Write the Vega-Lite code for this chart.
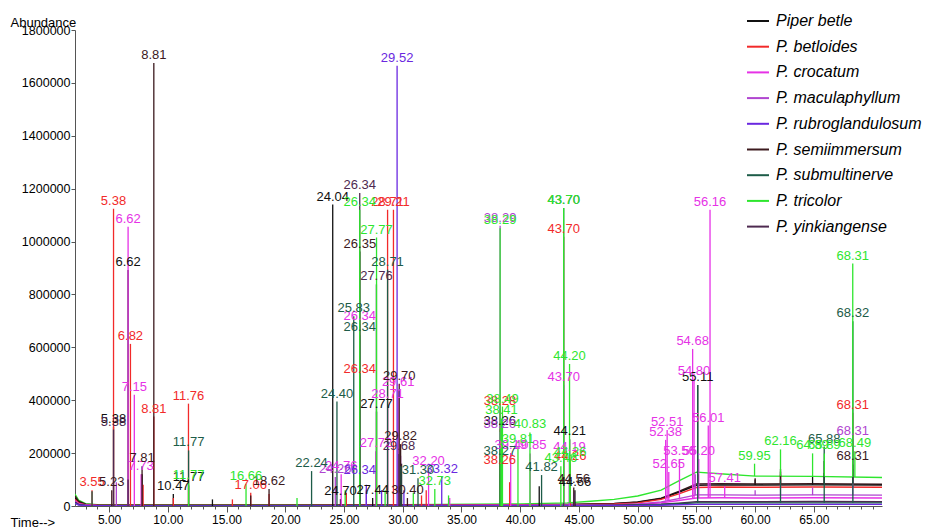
{
  "$schema": "https://vega.github.io/schema/vega-lite/v6.json",
  "width": 807,
  "height": 476,
  "autosize": {"type": "none"},
  "padding": {"left": 75, "top": 30, "right": 55, "bottom": 23},
  "background": "white",
  "config": {
    "view": {"stroke": null},
    "font": "Liberation Sans",
    "axis": {"grid": false, "labelFont": "Liberation Sans", "titleFont": "Liberation Sans", "labelColor": "#000", "titleColor": "#000", "domainColor": "#555", "tickColor": "#555"}
  },
  "datasets": {
    "base": [
      {"s":"P. tricolor","t":2.1,"v":45000},{"s":"P. tricolor","t":2.4,"v":22000},{"s":"P. tricolor","t":3,"v":9000},{"s":"P. tricolor","t":4,"v":5000},{"s":"P. tricolor","t":10,"v":4000},{"s":"P. tricolor","t":20,"v":4000},{"s":"P. tricolor","t":30,"v":5000},{"s":"P. tricolor","t":40,"v":8000},{"s":"P. tricolor","t":44,"v":12000},{"s":"P. tricolor","t":46,"v":18000},{"s":"P. tricolor","t":48,"v":25000},{"s":"P. tricolor","t":50,"v":38000},{"s":"P. tricolor","t":52,"v":60000},{"s":"P. tricolor","t":53.5,"v":95000},{"s":"P. tricolor","t":55,"v":128000},{"s":"P. tricolor","t":57,"v":122000},{"s":"P. tricolor","t":60,"v":113000},{"s":"P. tricolor","t":65,"v":112000},{"s":"P. tricolor","t":70.8,"v":108000},
      {"s":"P. semiimmersum","t":2.1,"v":38000},{"s":"P. semiimmersum","t":2.4,"v":18000},{"s":"P. semiimmersum","t":3,"v":7000},{"s":"P. semiimmersum","t":4,"v":4000},{"s":"P. semiimmersum","t":10,"v":3000},{"s":"P. semiimmersum","t":20,"v":3000},{"s":"P. semiimmersum","t":30,"v":4000},{"s":"P. semiimmersum","t":40,"v":5000},{"s":"P. semiimmersum","t":44,"v":6000},{"s":"P. semiimmersum","t":46,"v":8000},{"s":"P. semiimmersum","t":48,"v":10000},{"s":"P. semiimmersum","t":50,"v":15000},{"s":"P. semiimmersum","t":52,"v":30000},{"s":"P. semiimmersum","t":53.5,"v":55000},{"s":"P. semiimmersum","t":55,"v":83000},{"s":"P. semiimmersum","t":57,"v":84000},{"s":"P. semiimmersum","t":60,"v":83000},{"s":"P. semiimmersum","t":65,"v":84000},{"s":"P. semiimmersum","t":70.8,"v":82000},
      {"s":"Piper betle","t":2.1,"v":30000},{"s":"Piper betle","t":2.4,"v":15000},{"s":"Piper betle","t":3,"v":6000},{"s":"Piper betle","t":4,"v":3000},{"s":"Piper betle","t":10,"v":2000},{"s":"Piper betle","t":20,"v":2000},{"s":"Piper betle","t":30,"v":3000},{"s":"Piper betle","t":40,"v":4000},{"s":"Piper betle","t":44,"v":5000},{"s":"Piper betle","t":46,"v":7000},{"s":"Piper betle","t":48,"v":9000},{"s":"Piper betle","t":50,"v":14000},{"s":"Piper betle","t":52,"v":28000},{"s":"Piper betle","t":53.5,"v":52000},{"s":"Piper betle","t":55,"v":78000},{"s":"Piper betle","t":57,"v":80000},{"s":"Piper betle","t":60,"v":79000},{"s":"Piper betle","t":65,"v":80000},{"s":"Piper betle","t":70.8,"v":79000},
      {"s":"P. betloides","t":2.1,"v":25000},{"s":"P. betloides","t":2.4,"v":12000},{"s":"P. betloides","t":3,"v":5000},{"s":"P. betloides","t":4,"v":3000},{"s":"P. betloides","t":10,"v":2000},{"s":"P. betloides","t":20,"v":2000},{"s":"P. betloides","t":30,"v":3000},{"s":"P. betloides","t":40,"v":4000},{"s":"P. betloides","t":44,"v":5000},{"s":"P. betloides","t":46,"v":6000},{"s":"P. betloides","t":48,"v":8000},{"s":"P. betloides","t":50,"v":12000},{"s":"P. betloides","t":52,"v":25000},{"s":"P. betloides","t":53.5,"v":46000},{"s":"P. betloides","t":55,"v":70000},{"s":"P. betloides","t":57,"v":72000},{"s":"P. betloides","t":60,"v":71000},{"s":"P. betloides","t":65,"v":72000},{"s":"P. betloides","t":70.8,"v":71000},
      {"s":"P. maculaphyllum","t":2.1,"v":20000},{"s":"P. maculaphyllum","t":2.4,"v":9000},{"s":"P. maculaphyllum","t":3,"v":4000},{"s":"P. maculaphyllum","t":4,"v":2000},{"s":"P. maculaphyllum","t":10,"v":1500},{"s":"P. maculaphyllum","t":20,"v":1500},{"s":"P. maculaphyllum","t":30,"v":2000},{"s":"P. maculaphyllum","t":40,"v":3000},{"s":"P. maculaphyllum","t":44,"v":3500},{"s":"P. maculaphyllum","t":46,"v":4000},{"s":"P. maculaphyllum","t":48,"v":5000},{"s":"P. maculaphyllum","t":50,"v":8000},{"s":"P. maculaphyllum","t":52,"v":15000},{"s":"P. maculaphyllum","t":53.5,"v":28000},{"s":"P. maculaphyllum","t":55,"v":42000},{"s":"P. maculaphyllum","t":57,"v":42000},{"s":"P. maculaphyllum","t":60,"v":41000},{"s":"P. maculaphyllum","t":65,"v":42000},{"s":"P. maculaphyllum","t":70.8,"v":41000},
      {"s":"P. crocatum","t":2.1,"v":18000},{"s":"P. crocatum","t":2.4,"v":8000},{"s":"P. crocatum","t":3,"v":3000},{"s":"P. crocatum","t":4,"v":1500},{"s":"P. crocatum","t":10,"v":1000},{"s":"P. crocatum","t":20,"v":1000},{"s":"P. crocatum","t":30,"v":1500},{"s":"P. crocatum","t":40,"v":2000},{"s":"P. crocatum","t":44,"v":2500},{"s":"P. crocatum","t":46,"v":3000},{"s":"P. crocatum","t":48,"v":4000},{"s":"P. crocatum","t":50,"v":6000},{"s":"P. crocatum","t":52,"v":12000},{"s":"P. crocatum","t":53.5,"v":21000},{"s":"P. crocatum","t":55,"v":30000},{"s":"P. crocatum","t":57,"v":31000},{"s":"P. crocatum","t":60,"v":30000},{"s":"P. crocatum","t":65,"v":31000},{"s":"P. crocatum","t":70.8,"v":30000},
      {"s":"P. yinkiangense","t":2.1,"v":15000},{"s":"P. yinkiangense","t":2.4,"v":6000},{"s":"P. yinkiangense","t":3,"v":2500},{"s":"P. yinkiangense","t":4,"v":1500},{"s":"P. yinkiangense","t":10,"v":1000},{"s":"P. yinkiangense","t":20,"v":1000},{"s":"P. yinkiangense","t":30,"v":1000},{"s":"P. yinkiangense","t":40,"v":1500},{"s":"P. yinkiangense","t":44,"v":2000},{"s":"P. yinkiangense","t":46,"v":2500},{"s":"P. yinkiangense","t":48,"v":3000},{"s":"P. yinkiangense","t":50,"v":4500},{"s":"P. yinkiangense","t":52,"v":7000},{"s":"P. yinkiangense","t":53.5,"v":11000},{"s":"P. yinkiangense","t":55,"v":16000},{"s":"P. yinkiangense","t":57,"v":16000},{"s":"P. yinkiangense","t":60,"v":16000},{"s":"P. yinkiangense","t":65,"v":17000},{"s":"P. yinkiangense","t":70.8,"v":16000},
      {"s":"P. submultinerve","t":2.1,"v":12000},{"s":"P. submultinerve","t":2.4,"v":5000},{"s":"P. submultinerve","t":3,"v":2000},{"s":"P. submultinerve","t":4,"v":1000},{"s":"P. submultinerve","t":10,"v":800},{"s":"P. submultinerve","t":20,"v":800},{"s":"P. submultinerve","t":30,"v":1000},{"s":"P. submultinerve","t":40,"v":1200},{"s":"P. submultinerve","t":44,"v":1500},{"s":"P. submultinerve","t":46,"v":2000},{"s":"P. submultinerve","t":48,"v":2500},{"s":"P. submultinerve","t":50,"v":3500},{"s":"P. submultinerve","t":52,"v":5500},{"s":"P. submultinerve","t":53.5,"v":8500},{"s":"P. submultinerve","t":55,"v":12000},{"s":"P. submultinerve","t":57,"v":12000},{"s":"P. submultinerve","t":60,"v":12000},{"s":"P. submultinerve","t":65,"v":12000},{"s":"P. submultinerve","t":70.8,"v":12000},
      {"s":"P. rubroglandulosum","t":2.1,"v":10000},{"s":"P. rubroglandulosum","t":2.4,"v":4000},{"s":"P. rubroglandulosum","t":3,"v":1500},{"s":"P. rubroglandulosum","t":4,"v":800},{"s":"P. rubroglandulosum","t":10,"v":500},{"s":"P. rubroglandulosum","t":20,"v":500},{"s":"P. rubroglandulosum","t":30,"v":600},{"s":"P. rubroglandulosum","t":40,"v":800},{"s":"P. rubroglandulosum","t":44,"v":1000},{"s":"P. rubroglandulosum","t":46,"v":1200},{"s":"P. rubroglandulosum","t":48,"v":1500},{"s":"P. rubroglandulosum","t":50,"v":2000},{"s":"P. rubroglandulosum","t":52,"v":3000},{"s":"P. rubroglandulosum","t":53.5,"v":4500},{"s":"P. rubroglandulosum","t":55,"v":6000},{"s":"P. rubroglandulosum","t":57,"v":6000},{"s":"P. rubroglandulosum","t":60,"v":6000},{"s":"P. rubroglandulosum","t":65,"v":6000},{"s":"P. rubroglandulosum","t":70.8,"v":6000}
    ],
    "peaks": [
      {"s":"Piper betle","t":5.38,"b":0,"v":300000,"l":"5.38"},
      {"s":"Piper betle","t":6.62,"b":0,"v":892000,"l":"6.62"},
      {"s":"Piper betle","t":7.81,"b":0,"v":120000,"l":""},
      {"s":"Piper betle","t":10.47,"b":0,"v":45000,"l":"10.47"},
      {"s":"Piper betle","t":11.77,"b":0,"v":78000,"l":"11.77"},
      {"s":"Piper betle","t":13.8,"b":0,"v":25000,"l":""},
      {"s":"Piper betle","t":24.04,"b":0,"v":1140000,"l":"24.04"},
      {"s":"Piper betle","t":24.7,"b":0,"v":26000,"l":"24.70"},
      {"s":"Piper betle","t":27.44,"b":0,"v":30000,"l":"27.44"},
      {"s":"Piper betle","t":27.77,"b":0,"v":357000,"l":"27.77"},
      {"s":"Piper betle","t":29.9,"b":0,"v":160000,"l":""},
      {"s":"Piper betle","t":38.26,"b":0,"v":290000,"l":"38.26"},
      {"s":"Piper betle","t":41.62,"b":0,"v":75000,"l":""},
      {"s":"Piper betle","t":44.21,"b":0,"v":252000,"l":"44.21"},
      {"s":"Piper betle","t":44.66,"b":0,"v":60000,"l":"44.66"},
      {"s":"Piper betle","t":55.11,"b":80000,"v":458000,"l":"55.11"},
      {"s":"Piper betle","t":60.0,"b":79000,"v":100000,"l":""},
      {"s":"Piper betle","t":62.16,"b":79000,"v":130000,"l":""},
      {"s":"Piper betle","t":64.89,"b":80000,"v":110000,"l":""},
      {"s":"Piper betle","t":65.88,"b":80000,"v":125000,"l":""},
      {"s":"Piper betle","t":68.31,"b":79000,"v":140000,"l":""},
      {"s":"P. betloides","t":3.55,"b":0,"v":60000,"l":"3.55"},
      {"s":"P. betloides","t":5.38,"b":0,"v":1124000,"l":"5.38"},
      {"s":"P. betloides","t":6.82,"b":0,"v":613000,"l":"6.82"},
      {"s":"P. betloides","t":7.9,"b":0,"v":80000,"l":""},
      {"s":"P. betloides","t":8.81,"b":0,"v":338000,"l":"8.81"},
      {"s":"P. betloides","t":10.47,"b":0,"v":30000,"l":""},
      {"s":"P. betloides","t":11.76,"b":0,"v":387000,"l":"11.76"},
      {"s":"P. betloides","t":15.5,"b":0,"v":25000,"l":""},
      {"s":"P. betloides","t":17.06,"b":0,"v":50000,"l":"17.06"},
      {"s":"P. betloides","t":18.62,"b":0,"v":45000,"l":""},
      {"s":"P. betloides","t":25.2,"b":0,"v":50000,"l":""},
      {"s":"P. betloides","t":26.34,"b":0,"v":489000,"l":"26.34"},
      {"s":"P. betloides","t":28.71,"b":0,"v":1120000,"l":"28.71"},
      {"s":"P. betloides","t":29.21,"b":0,"v":1120000,"l":"29.21"},
      {"s":"P. betloides","t":31.6,"b":0,"v":40000,"l":""},
      {"s":"P. betloides","t":32.0,"b":0,"v":60000,"l":""},
      {"s":"P. betloides","t":38.28,"b":0,"v":368000,"l":"38.28"},
      {"s":"P. betloides","t":38.26,"b":0,"v":143000,"l":"38.26"},
      {"s":"P. betloides","t":39.1,"b":0,"v":90000,"l":""},
      {"s":"P. betloides","t":43.7,"b":0,"v":1018000,"l":"43.70"},
      {"s":"P. betloides","t":44.26,"b":0,"v":160000,"l":"44.26"},
      {"s":"P. betloides","t":55.11,"b":72000,"v":110000,"l":""},
      {"s":"P. betloides","t":62.16,"b":72000,"v":120000,"l":""},
      {"s":"P. betloides","t":68.31,"b":72000,"v":353000,"l":"68.31"},
      {"s":"P. crocatum","t":6.62,"b":0,"v":1056000,"l":"6.62"},
      {"s":"P. crocatum","t":7.15,"b":0,"v":421000,"l":"7.15"},
      {"s":"P. crocatum","t":7.73,"b":0,"v":120000,"l":"7.73"},
      {"s":"P. crocatum","t":24.76,"b":0,"v":120000,"l":"24.76"},
      {"s":"P. crocatum","t":26.34,"b":0,"v":688000,"l":"26.34"},
      {"s":"P. crocatum","t":27.72,"b":0,"v":207000,"l":"27.72"},
      {"s":"P. crocatum","t":28.71,"b":0,"v":395000,"l":"28.71"},
      {"s":"P. crocatum","t":29.61,"b":0,"v":440000,"l":"29.61"},
      {"s":"P. crocatum","t":32.2,"b":0,"v":139000,"l":"32.20"},
      {"s":"P. crocatum","t":34.0,"b":0,"v":30000,"l":""},
      {"s":"P. crocatum","t":39.19,"b":0,"v":200000,"l":"39.19"},
      {"s":"P. crocatum","t":40.85,"b":0,"v":199000,"l":"40.85"},
      {"s":"P. crocatum","t":43.7,"b":0,"v":458000,"l":"43.70"},
      {"s":"P. crocatum","t":44.19,"b":0,"v":192000,"l":"44.19"},
      {"s":"P. crocatum","t":52.38,"b":20000,"v":250000,"l":"52.38"},
      {"s":"P. crocatum","t":52.51,"b":22000,"v":287000,"l":"52.51"},
      {"s":"P. crocatum","t":52.65,"b":22000,"v":129000,"l":"52.65"},
      {"s":"P. crocatum","t":53.56,"b":25000,"v":178000,"l":"53.56"},
      {"s":"P. crocatum","t":54.68,"b":29000,"v":594000,"l":"54.68"},
      {"s":"P. crocatum","t":54.8,"b":29000,"v":481000,"l":"54.80"},
      {"s":"P. crocatum","t":55.2,"b":30000,"v":178000,"l":"55.20"},
      {"s":"P. crocatum","t":56.01,"b":30000,"v":304000,"l":"56.01"},
      {"s":"P. crocatum","t":56.16,"b":30000,"v":1120000,"l":"56.16"},
      {"s":"P. crocatum","t":57.41,"b":31000,"v":75000,"l":"57.41"},
      {"s":"P. maculaphyllum","t":5.62,"b":0,"v":90000,"l":""},
      {"s":"P. maculaphyllum","t":24.26,"b":0,"v":110000,"l":"24.26"},
      {"s":"P. maculaphyllum","t":26.9,"b":0,"v":60000,"l":""},
      {"s":"P. maculaphyllum","t":29.82,"b":0,"v":190000,"l":""},
      {"s":"P. maculaphyllum","t":38.29,"b":0,"v":1060000,"l":"38.29"},
      {"s":"P. maculaphyllum","t":38.26,"b":0,"v":280000,"l":"38.26"},
      {"s":"P. maculaphyllum","t":44.19,"b":0,"v":100000,"l":""},
      {"s":"P. maculaphyllum","t":54.9,"b":42000,"v":120000,"l":""},
      {"s":"P. maculaphyllum","t":60.0,"b":41000,"v":60000,"l":""},
      {"s":"P. maculaphyllum","t":62.16,"b":41000,"v":80000,"l":""},
      {"s":"P. maculaphyllum","t":64.89,"b":41000,"v":70000,"l":""},
      {"s":"P. maculaphyllum","t":68.31,"b":41000,"v":252000,"l":"68.31"},
      {"s":"P. rubroglandulosum","t":26.34,"b":0,"v":105000,"l":"26.34"},
      {"s":"P. rubroglandulosum","t":26.9,"b":0,"v":80000,"l":""},
      {"s":"P. rubroglandulosum","t":28.2,"b":0,"v":60000,"l":""},
      {"s":"P. rubroglandulosum","t":29.52,"b":0,"v":1665000,"l":"29.52"},
      {"s":"P. rubroglandulosum","t":30.1,"b":0,"v":60000,"l":""},
      {"s":"P. rubroglandulosum","t":33.32,"b":0,"v":110000,"l":"33.32"},
      {"s":"P. rubroglandulosum","t":38.3,"b":0,"v":40000,"l":""},
      {"s":"P. semiimmersum","t":5.23,"b":0,"v":60000,"l":"5.23"},
      {"s":"P. semiimmersum","t":7.81,"b":0,"v":150000,"l":"7.81"},
      {"s":"P. semiimmersum","t":8.81,"b":0,"v":1675000,"l":"8.81"},
      {"s":"P. semiimmersum","t":17.06,"b":0,"v":40000,"l":""},
      {"s":"P. semiimmersum","t":18.62,"b":0,"v":64000,"l":"18.62"},
      {"s":"P. semiimmersum","t":26.35,"b":0,"v":962000,"l":"26.35"},
      {"s":"P. semiimmersum","t":29.7,"b":0,"v":462000,"l":"29.70"},
      {"s":"P. semiimmersum","t":29.82,"b":0,"v":234000,"l":"29.82"},
      {"s":"P. semiimmersum","t":30.4,"b":0,"v":30000,"l":"30.40"},
      {"s":"P. semiimmersum","t":38.26,"b":0,"v":120000,"l":""},
      {"s":"P. semiimmersum","t":44.56,"b":0,"v":70000,"l":"44.56"},
      {"s":"P. semiimmersum","t":55.11,"b":83000,"v":120000,"l":""},
      {"s":"P. semiimmersum","t":60.0,"b":83000,"v":105000,"l":""},
      {"s":"P. semiimmersum","t":62.16,"b":83000,"v":140000,"l":""},
      {"s":"P. semiimmersum","t":65.88,"b":84000,"v":170000,"l":""},
      {"s":"P. semiimmersum","t":68.31,"b":84000,"v":157000,"l":"68.31"},
      {"s":"P. submultinerve","t":3.55,"b":0,"v":56000,"l":""},
      {"s":"P. submultinerve","t":11.77,"b":0,"v":210000,"l":"11.77"},
      {"s":"P. submultinerve","t":22.24,"b":0,"v":132000,"l":"22.24"},
      {"s":"P. submultinerve","t":24.4,"b":0,"v":395000,"l":"24.40"},
      {"s":"P. submultinerve","t":25.83,"b":0,"v":718000,"l":"25.83"},
      {"s":"P. submultinerve","t":26.34,"b":0,"v":646000,"l":"26.34"},
      {"s":"P. submultinerve","t":28.71,"b":0,"v":894000,"l":"28.71"},
      {"s":"P. submultinerve","t":29.85,"b":0,"v":150000,"l":""},
      {"s":"P. submultinerve","t":31.3,"b":0,"v":105000,"l":"31.30"},
      {"s":"P. submultinerve","t":38.27,"b":0,"v":177000,"l":"38.27"},
      {"s":"P. submultinerve","t":41.82,"b":0,"v":117000,"l":"41.82"},
      {"s":"P. submultinerve","t":43.7,"b":0,"v":1127000,"l":"43.70"},
      {"s":"P. submultinerve","t":55.11,"b":12000,"v":458000,"l":""},
      {"s":"P. submultinerve","t":62.16,"b":12000,"v":100000,"l":""},
      {"s":"P. submultinerve","t":65.88,"b":12000,"v":225000,"l":"65.88"},
      {"s":"P. submultinerve","t":68.32,"b":12000,"v":699000,"l":"68.32"},
      {"s":"P. yinkiangense","t":5.38,"b":0,"v":289000,"l":"5.38"},
      {"s":"P. yinkiangense","t":6.62,"b":0,"v":100000,"l":""},
      {"s":"P. yinkiangense","t":26.34,"b":0,"v":1184000,"l":"26.34"},
      {"s":"P. yinkiangense","t":27.76,"b":0,"v":838000,"l":"27.76"},
      {"s":"P. yinkiangense","t":29.68,"b":0,"v":197000,"l":"29.68"},
      {"s":"P. yinkiangense","t":38.26,"b":0,"v":250000,"l":""},
      {"s":"P. yinkiangense","t":44.6,"b":0,"v":50000,"l":""},
      {"s":"P. tricolor","t":11.77,"b":0,"v":86000,"l":"11.77"},
      {"s":"P. tricolor","t":16.66,"b":0,"v":83000,"l":"16.66"},
      {"s":"P. tricolor","t":21.0,"b":0,"v":30000,"l":""},
      {"s":"P. tricolor","t":25.1,"b":0,"v":60000,"l":""},
      {"s":"P. tricolor","t":26.34,"b":0,"v":1120000,"l":"26.34"},
      {"s":"P. tricolor","t":27.77,"b":0,"v":1015000,"l":"27.77"},
      {"s":"P. tricolor","t":28.5,"b":0,"v":60000,"l":""},
      {"s":"P. tricolor","t":30.9,"b":0,"v":50000,"l":""},
      {"s":"P. tricolor","t":32.73,"b":0,"v":64000,"l":"32.73"},
      {"s":"P. tricolor","t":33.9,"b":0,"v":40000,"l":""},
      {"s":"P. tricolor","t":38.29,"b":0,"v":1050000,"l":"38.29"},
      {"s":"P. tricolor","t":38.41,"b":0,"v":331000,"l":"38.41"},
      {"s":"P. tricolor","t":38.49,"b":0,"v":376000,"l":"38.49"},
      {"s":"P. tricolor","t":39.81,"b":0,"v":225000,"l":"39.81"},
      {"s":"P. tricolor","t":40.83,"b":0,"v":278000,"l":"40.83"},
      {"s":"P. tricolor","t":43.46,"b":0,"v":150000,"l":"43.46"},
      {"s":"P. tricolor","t":43.7,"b":12000,"v":1127000,"l":"43.70"},
      {"s":"P. tricolor","t":44.2,"b":12000,"v":537000,"l":"44.20"},
      {"s":"P. tricolor","t":44.26,"b":12000,"v":175000,"l":"44.26"},
      {"s":"P. tricolor","t":59.95,"b":113000,"v":160000,"l":"59.95"},
      {"s":"P. tricolor","t":62.16,"b":113000,"v":214000,"l":"62.16"},
      {"s":"P. tricolor","t":64.89,"b":112000,"v":199000,"l":"64.89"},
      {"s":"P. tricolor","t":65.89,"b":112000,"v":199000,"l":"65.89"},
      {"s":"P. tricolor","t":68.31,"b":110000,"v":917000,"l":"68.31"},
      {"s":"P. tricolor","t":68.49,"b":110000,"v":207000,"l":"68.49"}
    ]
  },
  "resolve": {"axis": {"x": "independent"}},
  "layer": [
    {
      "data": {"name": "base"},
      "mark": {"type": "line", "strokeWidth": 1.4, "clip": true},
      "encoding": {
        "x": {"field": "t", "type": "quantitative", "scale": {"domain": [2.1, 70.8], "nice": false, "zero": false},
          "axis": {"orient": "bottom", "values": [5, 10, 15, 20, 25, 30, 35, 40, 45, 50, 55, 60, 65], "format": ".2f", "labelFontSize": 12, "tickSize": 6, "labelPadding": 2, "title": "Time-->", "titleFontSize": 13, "titleFontWeight": "normal", "titleAngle": 0, "titleAlign": "left", "titleBaseline": "middle", "titleX": -65, "titleY": 16}},
        "y": {"field": "v", "type": "quantitative", "scale": {"domain": [0, 1800000], "nice": false},
          "axis": {"values": [0, 200000, 400000, 600000, 800000, 1000000, 1200000, 1400000, 1600000, 1800000], "format": "d", "labelFontSize": 12.5, "tickSize": 4, "labelPadding": 1, "title": "Abundance", "titleFontSize": 13, "titleFontWeight": "normal", "titleAngle": 0, "titleAlign": "left", "titleBaseline": "middle", "titleX": -65, "titleY": -8}},
        "color": {"field": "s", "type": "nominal",
          "scale": {"domain": ["Piper betle", "P. betloides", "P. crocatum", "P. maculaphyllum", "P. rubroglandulosum", "P. semiimmersum", "P. submultinerve", "P. tricolor", "P. yinkiangense"],
            "range": ["#111111", "#f22a2a", "#e632e6", "#b045d0", "#6a28e0", "#3c1a1e", "#1d5c48", "#2ee62e", "#4e2a50"]},
          "legend": {"title": null, "orient": "none", "legendX": 671, "legendY": -21, "symbolType": "stroke", "symbolSize": 484, "symbolStrokeWidth": 2, "labelFontSize": 16, "labelFontStyle": "italic", "labelFont": "Liberation Sans", "labelColor": "#000", "rowPadding": 5.7, "labelOffset": 6}},
        "detail": {"field": "s"}
      }
    },
    {
      "data": {"name": "peaks"},
      "mark": {"type": "rule", "strokeWidth": 1.3},
      "encoding": {
        "x": {"field": "t", "type": "quantitative", "axis": {"orient": "bottom", "values": [3,4,5,6,7,8,9,10,11,12,13,14,15,16,17,18,19,20,21,22,23,24,25,26,27,28,29,30,31,32,33,34,35,36,37,38,39,40,41,42,43,44,45,46,47,48,49,50,51,52,53,54,55,56,57,58,59,60,61,62,63,64,65,66,67,68,69,70], "labels": false, "domain": false, "tickSize": 3, "title": null}},
        "y": {"field": "b", "type": "quantitative"},
        "y2": {"field": "v"},
        "color": {"field": "s", "type": "nominal", "legend": null}
      }
    },
    {
      "data": {"name": "peaks"},
      "transform": [{"filter": "datum.l != ''"}],
      "mark": {"type": "text", "baseline": "bottom", "align": "center", "dy": -1, "fontSize": 13, "font": "Liberation Sans"},
      "encoding": {
        "x": {"field": "t", "type": "quantitative", "axis": null},
        "y": {"field": "v", "type": "quantitative"},
        "text": {"field": "l"},
        "color": {"field": "s", "type": "nominal", "legend": null}
      }
    }
  ]
}
